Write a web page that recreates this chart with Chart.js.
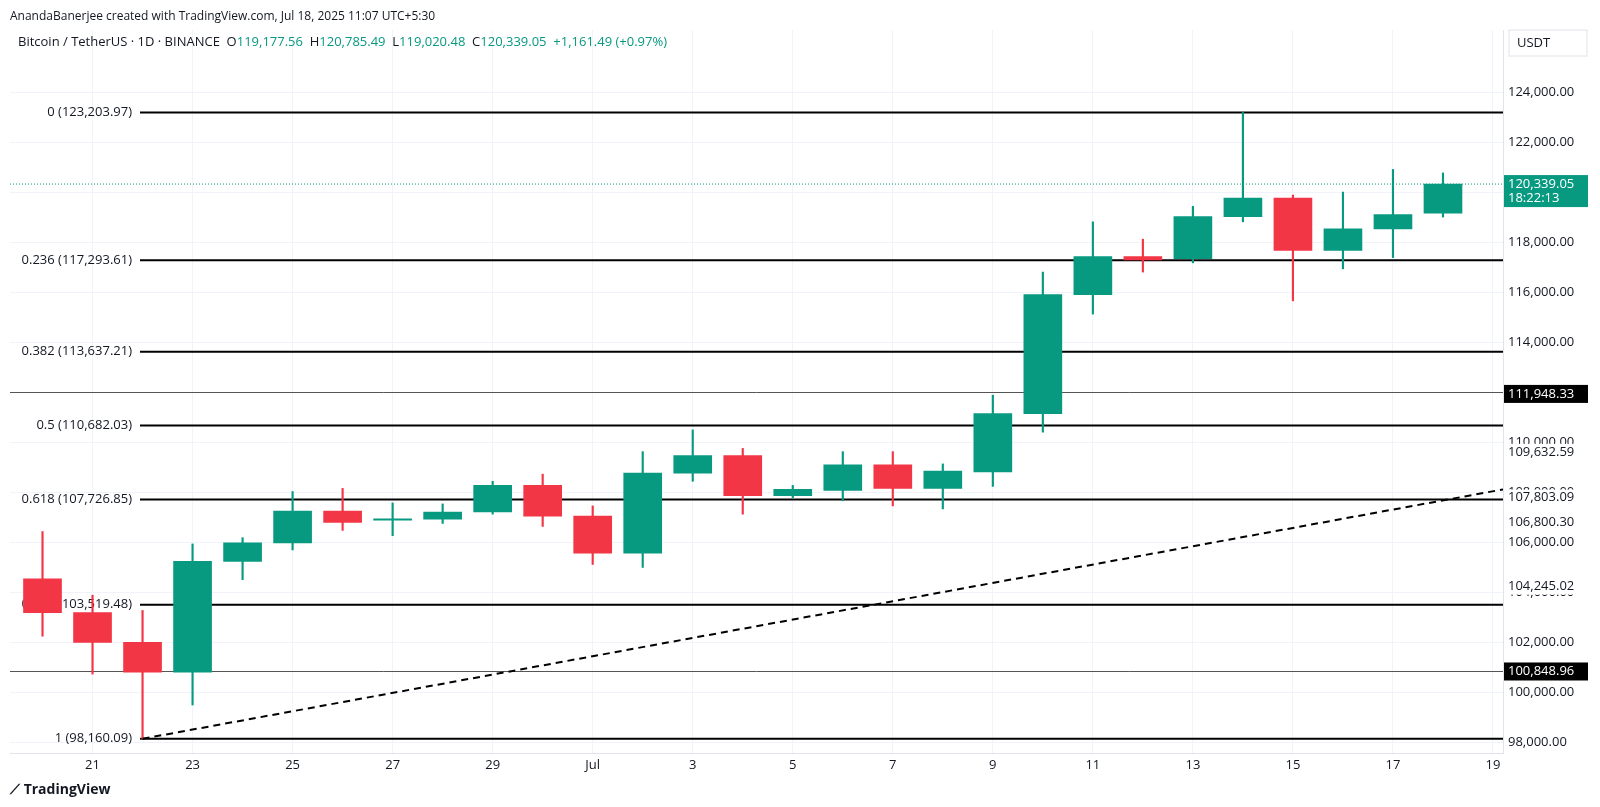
<!DOCTYPE html>
<html lang="en">
<head>
<meta charset="UTF-8">
<title>BTC/USDT 1D</title>
<script src="https://cdn.jsdelivr.net/npm/chart.js"></script>
<style>
  html, body { margin: 0; padding: 0; background: #fff; }
  #wrap { width: 1600px; height: 807px; position: relative; }
  #hdr { position: absolute; left: 10px; top: 7px; font: 12px "Open Sans", sans-serif; color: #131722; }
  #logo { position: absolute; left: 10px; top: 779px; font: bold 14px "Open Sans", sans-serif; color: #131722; }
  canvas { display: block; }
</style>
</head>
<body>
<div id="wrap">
  <canvas id="c" width="1600" height="807"></canvas>
  <div id="hdr">AnandaBanerjee created with TradingView.com, Jul 18, 2025 11:07 UTC+5:30</div>
  <div id="logo">⟋ TradingView</div>
</div>
<script>
// day index 0 = Jun 20
const days = ['20','21','22','23','24','25','26','27','28','29','30','Jul','2','3','4','5','6','7','8','9','10','11','12','13','14','15','16','17','18','19'];
const opens  = [104558,103204,102015,100826,105255,105990,107265,106900,106940,107225,108290,107060,105580,108780,109480,107880,108090,109110,108170,108825,111160,115920,117440,117355,119040,119775,117685,118545,119177.56];
const closes = [103204,102015,100826,105255,105990,107265,106815,106950,107225,108290,107060,105580,108780,109480,107880,108130,109110,108170,108865,111160,115920,117440,117310,119040,119775,117685,118545,119120,120339.05];
const highs  = [106445,103900,103290,105950,106200,108045,108170,107590,107550,108455,108740,107470,109640,110510,109770,108290,109640,109640,109150,111900,116820,118830,118135,119450,123203.97,119900,120020,120925,120785.49];
const lows   = [102260,100745,98160.09,99510,104520,105710,106490,106280,106770,107140,106650,105130,105010,108455,107140,107800,107675,107470,107350,108250,110420,115140,116820,117190,118830,115670,116950,117400,119020.48];
const fibRatios = ['0','0.236','0.382','0.5','0.618','0.786','1'];
const fibLevels = [123203.97,117293.61,113637.21,110682.03,107726.85,103519.48,98160.09];
const trendX = [2, 29.2];
const trendY = [98160.09, 108130];
const sideLabels = [112007.31,109632.59,107803.09,106800.30,104245.02];

const UP = '#089981', DN = '#F23645';
const col = opens.map((o, i) => closes[i] >= o ? UP : DN);
const fmt = v => v.toLocaleString('en-US', {minimumFractionDigits: 2, maximumFractionDigits: 2});

const overlay = {
  id: 'overlay',
  beforeDatasetsDraw(chart) {
    const {ctx, chartArea: a, scales: {x, y}} = chart;
    ctx.save();
    ctx.strokeStyle = '#555'; ctx.lineWidth = 1;
    [112007.31, 100848.96].forEach(v => {
      const py = Math.round(y.getPixelForValue(v)) + 0.5;
      ctx.beginPath(); ctx.moveTo(a.left, py); ctx.lineTo(a.right, py); ctx.stroke();
    });
    ctx.strokeStyle = '#000'; ctx.lineWidth = 2;
    ctx.font = '13px "Open Sans", sans-serif'; ctx.fillStyle = '#131722';
    ctx.textAlign = 'right'; ctx.textBaseline = 'middle';
    fibLevels.forEach((v, i) => {
      const py = y.getPixelForValue(v);
      ctx.beginPath(); ctx.moveTo(140, py); ctx.lineTo(a.right, py); ctx.stroke();
      ctx.fillText(fibRatios[i] + ' (' + fmt(v) + ')', 132, py);
    });
    ctx.strokeStyle = UP; ctx.lineWidth = 1; ctx.setLineDash([1, 2]);
    const lp = y.getPixelForValue(closes[closes.length - 1]);
    ctx.beginPath(); ctx.moveTo(a.left, lp); ctx.lineTo(a.right, lp); ctx.stroke();
    ctx.restore();
  },
  afterDraw(chart) {
    const {ctx, chartArea: a, scales: {y}} = chart;
    ctx.save();
    ctx.font = '13px "Open Sans", sans-serif'; ctx.textBaseline = 'middle'; ctx.textAlign = 'left';
    const lx = a.right + 5;
    sideLabels.forEach(v => {
      const py = y.getPixelForValue(v);
      ctx.fillStyle = '#fff'; ctx.fillRect(a.right + 1, py - 8, 84, 16);
      ctx.fillStyle = '#131722'; ctx.fillText(fmt(v), lx, py);
    });
    const box = (v, bg, txt2) => {
      const py = y.getPixelForValue(v);
      const h = txt2 ? 32 : 18;
      ctx.fillStyle = bg; ctx.fillRect(a.right + 1, py - 9, 84, h);
      ctx.fillStyle = '#fff'; ctx.fillText(fmt(v), lx, py);
      if (txt2) ctx.fillText(txt2, lx, py + 14);
    };
    box(111948.33, '#000');
    box(100848.96, '#000');
    box(120339.05, UP, '18:22:13');
    ctx.strokeStyle = '#e0e3eb'; ctx.strokeRect(a.right + 6, 30, 78, 26);
    ctx.fillStyle = '#131722'; ctx.fillText('USDT', a.right + 14, 43);
    let x0 = 18;
    const parts = [['Bitcoin / TetherUS · 1D · BINANCE  ', '#131722'], ['O', '#131722'], ['119,177.56  ', UP], ['H', '#131722'], ['120,785.49  ', UP], ['L', '#131722'], ['119,020.48  ', UP], ['C', '#131722'], ['120,339.05  +1,161.49 (+0.97%)', UP]];
    parts.forEach(([t, c]) => { ctx.fillStyle = c; ctx.fillText(t, x0, 42); x0 += ctx.measureText(t).width; });
    ctx.restore();
  }
};

new Chart(document.getElementById('c'), {
  type: 'bar',
  data: {
    datasets: [
      {
        type: 'line', order: 0,
        data: trendX.map((v, i) => ({x: v, y: trendY[i]})),
        borderColor: '#000', borderWidth: 2, borderDash: [7, 5], pointRadius: 0
      },
      {
        order: 1, grouped: false,
        data: opens.map((o, i) => ({x: i, y: [o, closes[i]]})),
        backgroundColor: col, barThickness: 38
      },
      {
        order: 2, grouped: false,
        data: lows.map((l, i) => ({x: i, y: [l, highs[i]]})),
        backgroundColor: col, barThickness: 1.5
      }
    ]
  },
  options: {
    responsive: false, animation: false,
    layout: {padding: {left: 10, top: 30, right: 10, bottom: 24}},
    plugins: {legend: {display: false}, tooltip: {enabled: false}},
    scales: {
      x: {
        type: 'linear', min: -0.65, max: 29.2, offset: false,
        afterBuildTicks(s) { s.ticks = []; for (let i = 1; i <= 29; i += 2) s.ticks.push({value: i}); },
        afterFit(s) { s.height = 30; },
        ticks: {callback: v => days[v], color: '#131722', font: {size: 13, family: 'Open Sans'}, maxRotation: 0, autoSkip: false, padding: 4},
        grid: {color: '#f0f3fa', drawTicks: false, offset: false},
        border: {color: '#e0e3eb'}
      },
      y: {
        position: 'right', min: 97590, max: 126500,
        afterBuildTicks(s) { s.ticks = []; for (let v = 98000; v <= 124000; v += 2000) s.ticks.push({value: v}); },
        afterFit(s) { s.width = 87; },
        ticks: {callback: v => fmt(v), color: '#131722', font: {size: 13, family: 'Open Sans'}, padding: 5},
        grid: {color: '#f0f3fa', drawTicks: false},
        border: {color: '#e0e3eb'}
      }
    }
  },
  plugins: [overlay]
});
</script>
</body>
</html>
